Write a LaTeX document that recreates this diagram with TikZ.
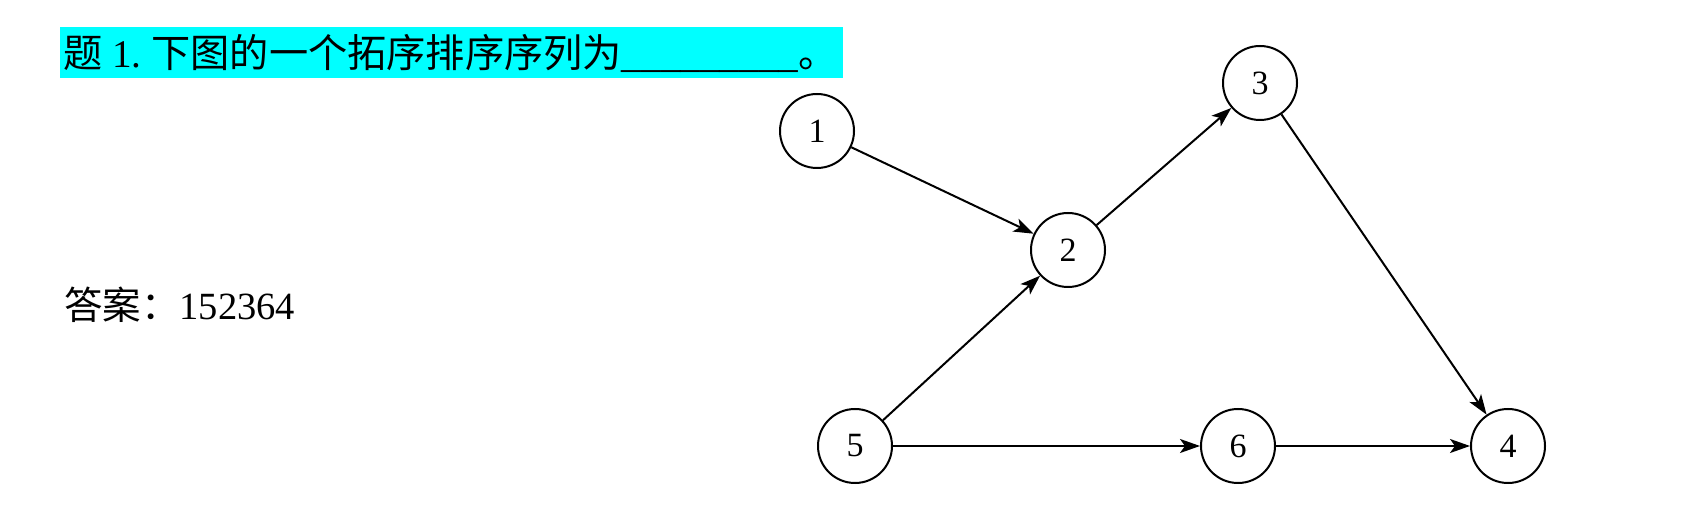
\documentclass[tikz,border=0pt]{standalone}
\usepackage{fontspec}
\newfontfamily\cjk{Noto Sans CJK SC}
\newfontfamily\tms{Liberation Serif}
\usetikzlibrary{arrows.meta}
\begin{document}
\begin{tikzpicture}[x=1pt,y=1pt,
  vertex/.style={circle,draw,line width=2pt,minimum size=74pt,inner sep=0pt,font=\fontsize{34}{40}\selectfont\tms},
  edge/.style={line width=2pt,-{Stealth[length=20pt,width=14pt,inset=5pt]}}]
\useasboundingbox (0,0) rectangle (1699,519);
\fill[fill={rgb,255:red,0;green,255;blue,255}] (60,441) rectangle (843,492);
\node[anchor=base west,inner sep=0pt] (title) at (63,451)
  {\fontsize{39.2}{48}\selectfont\cjk 题\tms\ 1.\ \cjk 下图的一个拓序排序序列为\tms\_\_\_\_\_\_\_\_\_\cjk 。};
\node[anchor=base west,inner sep=0pt] (answer) at (64,199)
  {\fontsize{38.5}{44}\selectfont\cjk 答案：\tms 152364};
\node[vertex] (n1) at (817,388) {1};
\node[vertex] (n2) at (1068,269) {2};
\node[vertex] (n3) at (1260,436) {3};
\node[vertex] (n4) at (1508,73) {4};
\node[vertex] (n5) at (855,73) {5};
\node[vertex] (n6) at (1238,73) {6};
\draw[edge] (n1) -- (n2);
\draw[edge] (n2) -- (n3);
\draw[edge] (n3) -- (n4);
\draw[edge] (n5) -- (n2);
\draw[edge] (n5) -- (n6);
\draw[edge] (n6) -- (n4);
\end{tikzpicture}
\end{document}
